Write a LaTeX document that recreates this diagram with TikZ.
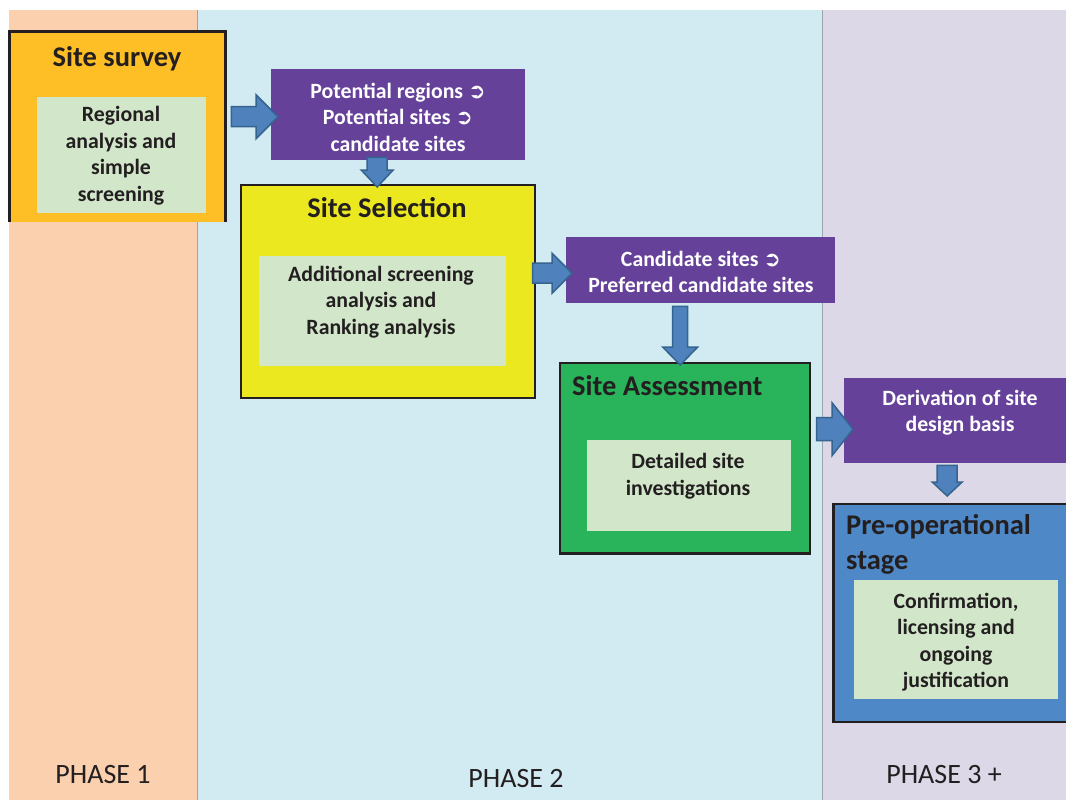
\documentclass[tikz,border=0pt]{standalone}
\usepackage{fontspec}
\setmainfont{Carlito}
\newfontfamily\symfont{DejaVu Sans}
\usetikzlibrary{calc}
\definecolor{peach}{HTML}{FAD0AE}
\definecolor{ltblue}{HTML}{D2EAF1}
\definecolor{lav}{HTML}{DDD8E7}
\definecolor{orangebox}{HTML}{FDBE26}
\definecolor{yellowbox}{HTML}{EBE81F}
\definecolor{greenbox}{HTML}{29B35B}
\definecolor{bluebox}{HTML}{4F88C7}
\definecolor{purplebox}{HTML}{65419A}
\definecolor{innergreen}{HTML}{D2E7CA}
\definecolor{arrowfill}{HTML}{4F81BD}
\definecolor{arrowline}{HTML}{35648F}
\definecolor{txt}{HTML}{231F20}
\definecolor{divider}{HTML}{9AA5AE}
\newcommand\circarr{{\symfont\fontsize{21}{21}\selectfont ➲}}
\newcommand\rightarr[5]{%
  \draw[barrow] let \p1=(#1), \p2=(#2) in
    (\x1,\y1+#3) -- (\x2-#5,\y1+#3) -- (\x2-#5,\y1+#4) -- (\x2,\y1)
    -- (\x2-#5,\y1-#4) -- (\x2-#5,\y1-#3) -- (\x1,\y1-#3) -- cycle;}
\newcommand\downarr[5]{%
  \draw[barrow] let \p1=(#1), \p2=(#2) in
    (\x1-#3,\y1) -- (\x1-#3,\y2+#5) -- (\x1-#4,\y2+#5) -- (\x1,\y2)
    -- (\x1+#4,\y2+#5) -- (\x1+#3,\y2+#5) -- (\x1+#3,\y1) -- cycle;}
\begin{document}
\begin{tikzpicture}[x=1pt,y=-1pt,
  stage/.style={draw=txt, line width=1.5pt, anchor=north west, inner sep=0pt},
  purple/.style={fill=purplebox, anchor=north west, inner sep=0pt},
  innerbox/.style={fill=innergreen, anchor=north west, inner sep=0pt},
  body/.style={text=txt, font=\bfseries\fontsize{21.8}{26.5}\selectfont, align=center, inner sep=0pt},
  ptext/.style={text=white, font=\bfseries\fontsize{21.8}{26.5}\selectfont, align=center, inner sep=0pt},
  title/.style={text=txt, font=\bfseries\fontsize{28.5}{35}\selectfont, inner sep=0pt},
  phase/.style={text=txt, font=\fontsize{28}{32}\selectfont, inner sep=0pt},
  barrow/.style={fill=arrowfill, draw=arrowline, line width=1.5pt, line join=miter}]
\useasboundingbox (0,0) rectangle (1066,800);
% phase columns
\fill[peach] (9,10) rectangle (197,800);
\fill[ltblue] (197,10) rectangle (822,800);
\fill[lav] (822,10) rectangle (1066,800);
\draw[divider, line width=0.8pt] (197,10) -- (197,800);
\draw[divider, line width=0.8pt] (822,10) -- (822,800);
\node[phase] (ph1) at (103,775) {PHASE 1};
\node[phase] (ph2) at (516,779) {PHASE 2};
\node[phase] (ph3) at (944,775) {PHASE 3 +};
% Site survey
\node[fill=orangebox, anchor=north west, inner sep=0pt, minimum width=216pt, minimum height=190pt] (survey) at (9,32) {};
\draw[txt, line width=3pt] (survey.south west) -- (survey.north west) -- (survey.north east) -- (survey.south east);
\node[title] (surveyt) at (117,59) {Site survey};
\node[innerbox, minimum width=169pt, minimum height=116pt] (surveyin) at (37,97) {};
\node[body] (surveyb) at (121,155.5) {Regional\\analysis and\\simple\\screening};
% purple 1
\node[purple, minimum width=254pt, minimum height=91pt] (purple1) at (271,69) {};
\node[ptext] (purple1t) at (398,117) {Potential regions \circarr\\Potential sites \circarr\\candidate sites};
% Site selection
\node[stage, fill=yellowbox, minimum width=294pt, minimum height=213pt] (selection) at (240,184) {};
\node[title] (selectiont) at (387,208) {Site Selection};
\node[innerbox, minimum width=247pt, minimum height=110pt] (selectionin) at (259,256) {};
\node[body] (selectionb) at (381,302) {Additional screening\\analysis and\\Ranking analysis};
% purple 2
\node[purple, minimum width=269pt, minimum height=66pt] (purple2) at (566,237) {};
\node[ptext] (purple2t) at (701,272) {Candidate sites \circarr\\Preferred candidate sites};
% Site assessment
\node[stage, fill=greenbox, minimum width=250pt, minimum height=190pt] (assess) at (559,362) {};
\draw[txt, line width=3pt] (assess.south west) -- (assess.south east);
\node[title, anchor=west] (assesst) at (572,386) {Site Assessment};
\node[innerbox, minimum width=204pt, minimum height=91pt] (assessin) at (587,440) {};
\node[body] (assessb) at (688,476) {Detailed site\\investigations};
% purple 3
\node[purple, minimum width=222pt, minimum height=85pt] (purple3) at (844,378) {};
\node[ptext] (purple3t) at (960,412.5) {Derivation of site\\design basis};
% Pre-operational stage
\node[stage, fill=bluebox, minimum width=233pt, minimum height=218pt] (preop) at (833,503) {};
\draw[txt, line width=3pt] (preop.south west) -- (preop.north west);
\node[title, anchor=west, align=left] (preopt) at (846,544) {Pre-operational\\stage};
\node[innerbox, minimum width=204pt, minimum height=119pt] (preopin) at (854,580) {};
\node[body] (preopb) at (956,642) {Confirmation,\\licensing and\\ongoing\\justification};
% arrows
\coordinate (a1s) at ($(survey.east |- purple1.west)+(6,2)$);
\coordinate (a1e) at ($(purple1.west)+(7,2)$);
\rightarr{a1s}{a1e}{10pt}{22pt}{22pt}
\coordinate (a2s) at ($(selection.east |- purple2.west)+(-3,3)$);
\coordinate (a2e) at ($(purple2.west)+(6,3)$);
\rightarr{a2s}{a2e}{10pt}{20pt}{20pt}
\coordinate (a3s) at ($(assess.east |- purple3.west)+(6,8.5)$);
\coordinate (a3e) at ($(purple3.west)+(9,8.5)$);
\rightarr{a3s}{a3e}{11.5pt}{26.5pt}{21pt}
\coordinate (d1s) at ($(purple1.south)+(-21,-3)$);
\coordinate (d1e) at ($(selection.north -| d1s)+(0,3)$);
\downarr{d1s}{d1e}{10pt}{16pt}{17pt}
\coordinate (d2s) at ($(purple2.south)+(-20.5,3)$);
\coordinate (d2e) at ($(assess.north -| d2s)+(0,3)$);
\downarr{d2s}{d2e}{7.5pt}{17.5pt}{18pt}
\coordinate (d3s) at ($(purple3.south)+(-8,2)$);
\coordinate (d3e) at ($(preop.north -| d3s)+(0,-7)$);
\downarr{d3s}{d3e}{10pt}{15pt}{14pt}
\end{tikzpicture}
\end{document}
